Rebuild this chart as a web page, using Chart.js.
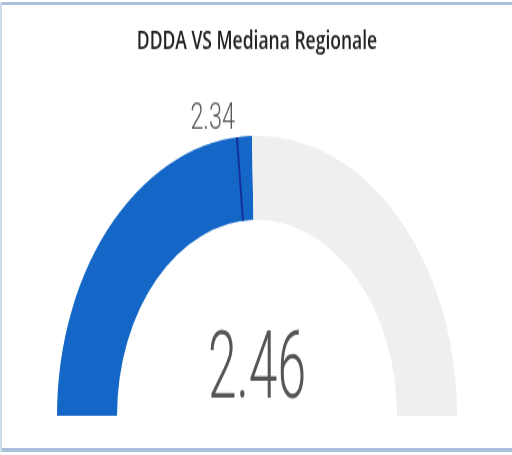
<!DOCTYPE html>
<html>
<head>
<meta charset="utf-8">
<script src="https://cdn.jsdelivr.net/npm/chart.js@4/dist/chart.umd.min.js"></script>
<style>
  html, body { margin: 0; padding: 0; background: #fff; }
  #frame { position: relative; width: 512px; height: 455px; overflow: hidden; background: #fff; }
  #stretch { position: absolute; left: 0; top: 0; width: 512px; height: 325px; transform: scaleY(1.4); transform-origin: 0 0; }
  .edge { position: absolute; background: #a9c1dd; }
</style>
</head>
<body>
<div id="frame">
  <div id="stretch"><canvas id="gauge" width="512" height="325"></canvas></div>
  <div class="edge" style="left:0;top:2px;width:512px;height:3px;"></div>
  <div class="edge" style="left:0;top:448px;width:512px;height:4px;"></div>
  <div class="edge" style="left:0;top:2px;width:2px;height:450px;background:#cfdcec;"></div>
</div>
<script>
// gauge data
const titleText = 'DDDA VS Mediana Regionale';
const segmentLabels = ['DDDA', 'Residuo'];
const gaugeRange = [0, 5];
const measureValues = [2.46];
const targetValues = [2.34];

const fillColor = '#1467c6';
const trackColor = '#f0efee';

// target marker + labels drawn over the arcs
const gaugeText = {
  id: 'gaugeText',
  afterDatasetsDraw(chart) {
    const arc = chart.getDatasetMeta(0).data[0];
    if (!arc) return;
    const ctx = chart.ctx;
    const { x, y, innerRadius, outerRadius } = arc.getProps(['x', 'y', 'innerRadius', 'outerRadius'], true);
    const span = gaugeRange[1] - gaugeRange[0];

    // target line
    const t = targetValues[0];
    const a = -Math.PI + (t - gaugeRange[0]) / span * Math.PI;
    const ox = x + outerRadius * Math.cos(a), oy = y + outerRadius * Math.sin(a);
    const ix = x + innerRadius * Math.cos(a), iy = y + innerRadius * Math.sin(a);
    ctx.save();
    ctx.strokeStyle = '#14309a';
    ctx.lineWidth = 2;
    ctx.beginPath();
    ctx.moveTo(ox, oy);
    ctx.lineTo(ix, iy);
    ctx.stroke();

    // target label
    ctx.fillStyle = '#595959';
    ctx.font = '300 26px Roboto';
    ctx.textAlign = 'right';
    ctx.textBaseline = 'alphabetic';
    ctx.translate(ox - 2, y - outerRadius - 5);
    ctx.scale(0.9, 1);
    ctx.fillText(t.toFixed(2), 0, 0);
    ctx.restore();

    // value in the middle
    ctx.save();
    ctx.fillStyle = '#555555';
    ctx.font = '300 67px Roboto';
    ctx.textAlign = 'center';
    ctx.textBaseline = 'alphabetic';
    ctx.translate(x, y - 13);
    ctx.scale(0.77, 1);
    ctx.fillText(measureValues[0].toFixed(2), 0, 0);
    ctx.restore();
  }
};

new Chart(document.getElementById('gauge'), {
  type: 'doughnut',
  data: {
    labels: segmentLabels,
    datasets: [{
      data: [measureValues[0] - gaugeRange[0], gaugeRange[1] - measureValues[0]],
      backgroundColor: [fillColor, trackColor],
      borderWidth: 0,
      hoverOffset: 0
    }]
  },
  options: {
    responsive: false,
    animation: false,
    rotation: -90,
    circumference: 180,
    cutout: '70%',
    layout: { padding: { top: 0, left: 57, right: 55, bottom: 28 } },
    plugins: {
      legend: { display: false },
      tooltip: { enabled: false },
      title: {
        display: true,
        text: titleText,
        color: '#222222',
        font: { family: 'Open Sans', size: 17.5, weight: 600 },
        padding: { top: 20, bottom: 56 }
      }
    }
  },
  plugins: [gaugeText]
});
</script>
</body>
</html>
